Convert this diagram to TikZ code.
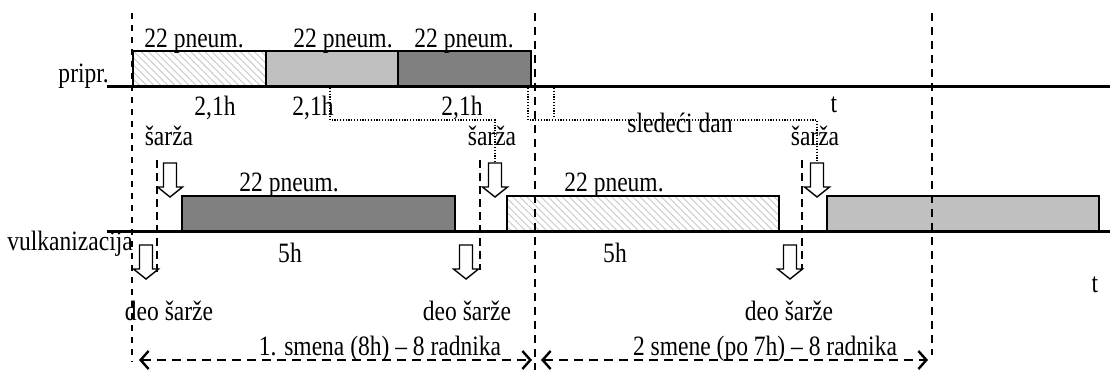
\documentclass[tikz,border=0pt]{standalone}
\usepackage{fontspec}
\setmainfont{Liberation Serif}[FakeStretch=0.84]
\usetikzlibrary{arrows.meta,patterns.meta}

\definecolor{barlight}{HTML}{C0C0C0}
\definecolor{bardark}{HTML}{808080}
\definecolor{hatchgray}{HTML}{C8C8C8}

\tikzset{
  lbl/.style={font=\fontsize{28}{30}\selectfont, inner sep=0pt, anchor=base},
  bar/.style={draw=black, line width=1.4pt, anchor=south west, minimum height=35pt, inner sep=0pt, outer sep=0pt},
  darkbar/.style={bar, fill=bardark},
  lightbar/.style={bar, fill=barlight},
  hatchbar/.style={bar, preaction={fill=white}, pattern={Lines[angle=-45,distance=5pt,line width=0.9pt]}, pattern color=hatchgray},
  timeaxis/.style={line width=3pt},
  shiftline/.style={dash pattern=on 8pt off 6pt, line width=2.4pt},
  startline/.style={dash pattern=on 6pt off 6pt, line width=1.5pt},
  batchline/.style={dash pattern=on 8pt off 5pt, line width=1.5pt},
  link/.style={line width=1.2pt, dash pattern=on 1.2pt off 1.6pt},
  barb/.tip={Straight Barb[length=8pt,width=18pt,line width=2.4pt]},
  shiftspan/.style={dash pattern=on 9pt off 6pt, line width=2.4pt, barb-barb},
  blockarrow/.style={draw=black, fill=white, line width=1.4pt, line join=miter},
  darrow/.pic={
    \path[blockarrow] (-6.5,0) -- (6.5,0) -- (6.5,24) -- (12.5,24) -- (0,34)
      -- (-12.5,24) -- (-6.5,24) -- cycle;
    \coordinate (-top) at (0,0);
  }
}

\begin{document}
\begin{tikzpicture}[x=1pt,y=-1pt]
\useasboundingbox (0,0) rectangle (1110,370);

% preparation bars
\node[hatchbar, minimum width=133pt] (p1) at (133,86) {};
\node[lightbar, minimum width=132pt] (p2) at (266,86) {};
\node[darkbar, minimum width=133pt] (p3) at (398,86) {};

% vulcanization bars
\node[darkbar, minimum width=273pt] (v1) at (182,231) {};
\node[hatchbar, minimum width=272pt] (v2) at (507,231) {};
\node[lightbar, minimum width=272pt] (v3) at (827,231) {};

% time axes
\coordinate (pa0) at (107,86);  \coordinate (pa1) at (1110,86);
\coordinate (va0) at (107,231); \coordinate (va1) at (1110,231);
\draw[timeaxis] (pa0) -- (pa1);
\draw[timeaxis] (va0) -- (va1);

% shift boundaries
\coordinate (s0t) at (132,13); \coordinate (s0b) at (132,362);
\coordinate (s1t) at (535,13); \coordinate (s1b) at (535,370);
\coordinate (s2t) at (932,13); \coordinate (s2b) at (932,355);
\draw[startline] (s0t) -- (s0b);
\draw[shiftline] (s1t) -- (s1b);
\draw[shiftline] (s2t) -- (s2b);

% batch boundaries
\coordinate (b1t) at (157,160); \coordinate (b1b) at (157,275);
\coordinate (b2t) at (480,160); \coordinate (b2b) at (480,270);
\coordinate (b3t) at (802,160); \coordinate (b3b) at (802,270);
\draw[batchline] (b1t) -- (b1b);
\draw[batchline] (b2t) -- (b2b);
\draw[batchline] (b3t) -- (b3b);

% batch arrows into vulcanization
\pic (u1) at (170,163) {darrow};
\pic (u2) at (495,163) {darrow};
\pic (u3) at (817,163) {darrow};
% partial batch arrows out of vulcanization
\pic (d1) at (146,245) {darrow};
\pic (d2) at (466,245) {darrow};
\pic (d3) at (790,245) {darrow};

% dotted links from preparation to the next batch
\coordinate (l1a) at (330,88);
\coordinate (l2a) at (528,88);
\coordinate (l3a) at (554,88); \coordinate (l3b) at (554,118);
\draw[link] (l1a) |- ([yshift=43pt]u2-top) -- (u2-top);
\draw[link] (l2a) |- ([yshift=43pt]u3-top) -- (u3-top);
\draw[link] (l3a) -- (l3b);

% shift spans
\coordinate (r0) at (139,360); \coordinate (r1) at (532,360);
\coordinate (r2) at (541,360); \coordinate (r3) at (928,360);
\draw[shiftspan] (r0) -- (r1);
\draw[shiftspan] (r2) -- (r3);

% labels
\node[lbl] (n1) at (194,47) {22 pneum.};
\node[lbl] (n2) at (343,47) {22 pneum.};
\node[lbl] (n3) at (464,47) {22 pneum.};
\node[lbl, anchor=base east] (prep) at (109,82) {pripr.};
\node[lbl] (h1) at (215,115) {2,1h};
\node[lbl] (h2) at (313,115) {2,1h};
\node[lbl] (h3) at (462,115) {2,1h};
\node[lbl] (t1) at (834,112) {t};
\node[lbl] (next) at (680,132) {sledeći dan};
\node[lbl] (c1) at (169,145) {šarža};
\node[lbl] (c2) at (492,145) {šarža};
\node[lbl] (c3) at (815,145) {šarža};
\node[lbl] (n4) at (289,191) {22 pneum.};
\node[lbl] (n5) at (614,191) {22 pneum.};
\node[lbl, anchor=base east] (vulc) at (133,250) {vulkanizacija};
\node[lbl] (f1) at (290,262) {5h};
\node[lbl] (f2) at (615,262) {5h};
\node[lbl] (t2) at (1095,292) {t};
\node[lbl] (e1) at (169,320) {deo šarže};
\node[lbl] (e2) at (467,320) {deo šarže};
\node[lbl] (e3) at (789,320) {deo šarže};
\node[lbl] (w1) at (380,355) {1. smena (8h) \textendash{} 8 radnika};
\node[lbl] (w2) at (765,355) {2 smene (po 7h) \textendash{} 8 radnika};
\end{tikzpicture}
\end{document}
